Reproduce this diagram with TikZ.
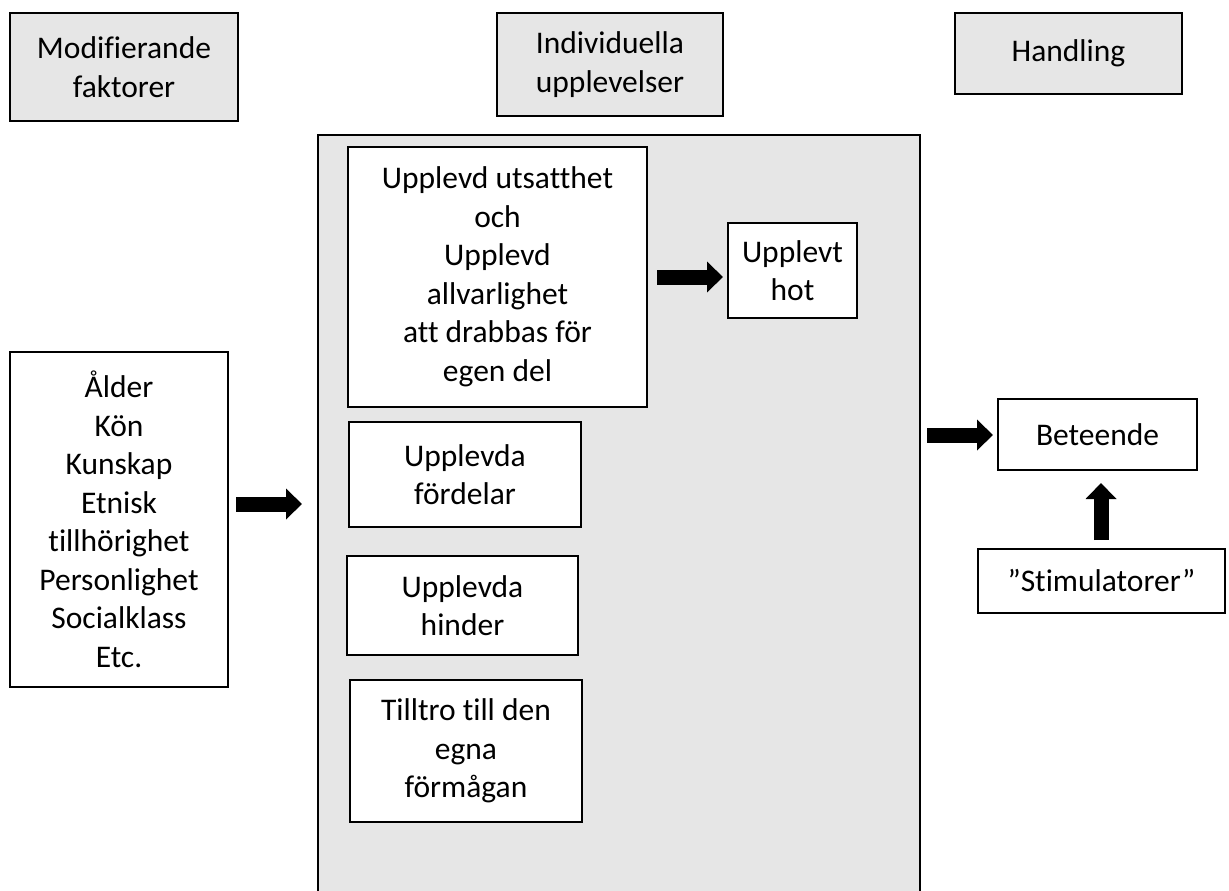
\documentclass[tikz,border=0pt]{standalone}
\usepackage{fontspec}
\setmainfont{Carlito}[Ligatures=NoCommon]
\usetikzlibrary{arrows.meta}
\definecolor{panelgrey}{HTML}{E6E6E6}
\tikzset{
  box/.style={draw=black, line width=2pt, fill=white, inner sep=0pt, align=center,
    font=\fontsize{31.5}{38.5}\selectfont},
  greybox/.style={box, fill=panelgrey},
  fatarrow/.style={line width=15pt, -{Triangle[length=16pt,width=30pt]}}
}
\begin{document}
\begin{tikzpicture}[x=1pt,y=-1pt]
\useasboundingbox (0,0) rectangle (1229,891);
% big grey panel (open at the bottom)
\fill[panelgrey] (318,135) rectangle (920,891);
\draw[line width=2pt] (318,895) -- (318,135) -- (920,135) -- (920,895);

% header boxes
\node[greybox, minimum width=228pt, minimum height=108pt] (mod) at (124,67) {Modifierande\\faktorer};
\node[greybox, minimum width=226pt, minimum height=103pt] (ind) at (610,64.5) {Individuella\\upplevelser};
\node[greybox, minimum width=227pt, minimum height=81pt] (hand) at (1068.5,53.5) {Handling};

% left factors
\node[box, minimum width=218pt, minimum height=335pt] (fac) at (119,519.5)
  {Ålder\\Kön\\Kunskap\\Etnisk\\tillhörighet\\Personlighet\\Socialklass\\Etc.};

% inner boxes
\node[box, minimum width=299pt, minimum height=260pt] (uu) at (497.5,277)
  {Upplevd utsatthet\\och\\Upplevd\\allvarlighet\\att drabbas för\\egen del};
\node[box, minimum width=129pt, minimum height=95pt] (hot) at (792.5,270.5) {Upplevt\\hot};
\node[box, minimum width=232pt, minimum height=105pt] (ford) at (465,474.5) {Upplevda\\fördelar};
\node[box, minimum width=231pt, minimum height=99pt] (hind) at (462.5,605.5) {Upplevda\\hinder};
\node[box, minimum width=232pt, minimum height=142pt] (till) at (466,751) {Tilltro till den\\egna\\förmågan};

% right side
\node[box, minimum width=199pt, minimum height=71pt] (bet) at (1097.5,434.5) {Beteende};
\node[box, minimum width=247pt, minimum height=64pt] (stim) at (1101.5,581) {”Stimulatorer”};

% arrow end points
\coordinate (a1s) at (236,504);  \coordinate (a1e) at (302,504);
\coordinate (a2s) at (657,277);  \coordinate (a2e) at (723,277);
\coordinate (a3s) at (927,435);  \coordinate (a3e) at (993,435);
\coordinate (a4s) at (1101,540); \coordinate (a4e) at (1101,483);

\draw[fatarrow] (a1s) -- (a1e);
\draw[fatarrow] (a2s) -- (a2e);
\draw[fatarrow] (a3s) -- (a3e);
\draw[fatarrow] (a4s) -- (a4e);
\end{tikzpicture}
\end{document}
